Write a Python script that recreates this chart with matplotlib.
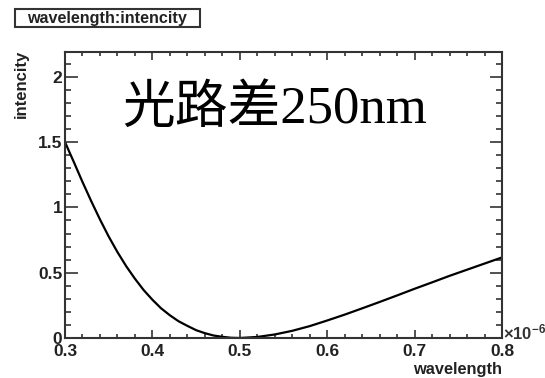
import matplotlib.pyplot as plt
from matplotlib.ticker import MultipleLocator
from matplotlib.patches import Rectangle

# wavelength in units of 1e-6 m, intensity
wavelength = [0.30, 0.31, 0.32, 0.33, 0.34, 0.35, 0.36, 0.37, 0.38, 0.39, 0.40,
              0.41, 0.42, 0.43, 0.44, 0.45, 0.46, 0.47, 0.48, 0.49, 0.50,
              0.52, 0.54, 0.56, 0.58, 0.60, 0.62, 0.64, 0.66, 0.68, 0.70,
              0.72, 0.74, 0.76, 0.78, 0.80]
intencity = [1.50, 1.349, 1.195, 1.048, 0.908, 0.777, 0.658, 0.550, 0.454, 0.367, 0.293,
             0.227, 0.174, 0.128, 0.093, 0.060, 0.037, 0.019, 0.009, 0.002, 0.0,
             0.008, 0.027, 0.055, 0.091, 0.134, 0.179, 0.227, 0.276, 0.326, 0.377,
             0.426, 0.476, 0.523, 0.570, 0.617]

x_ticks = [0.3, 0.4, 0.5, 0.6, 0.7, 0.8]
y_ticks = [0, 0.5, 1, 1.5, 2]
y_tick_labels = ["0", "0.5", "1", "1.5", "2"]

plt.rcParams['font.family'] = ['Liberation Sans', 'DejaVu Sans']
plt.rcParams['mathtext.default'] = 'regular'

fig = plt.figure(figsize=(5.45, 3.78), dpi=100)
ax = fig.add_axes([65 / 545, 1 - 338 / 378, (502 - 65) / 545, (338 - 52) / 378])

ax.plot(wavelength, intencity, color='black', lw=1.6)
ax.set_xlim(0.3, 0.8)
ax.set_ylim(0, 2.19)

ax.set_xticks(x_ticks)
ax.set_xticklabels([f"{v:.1f}" for v in x_ticks])
ax.set_yticks(y_ticks)
ax.set_yticklabels(y_tick_labels)
ax.xaxis.set_minor_locator(MultipleLocator(0.02))
ax.yaxis.set_minor_locator(MultipleLocator(0.1))

ax.tick_params(axis='both', which='both', direction='in', top=True, right=True,
               color='#333333', width=1.2)
ax.tick_params(axis='x', which='major', length=6, pad=4)
ax.tick_params(axis='x', which='minor', length=3)
ax.tick_params(axis='y', which='major', length=9, pad=2)
ax.tick_params(axis='y', which='minor', length=4.5)
for lab in ax.get_xticklabels() + ax.get_yticklabels():
    lab.set_fontweight('bold')
    lab.set_fontsize(12.5)
    lab.set_color('#222222')
for sp in ax.spines.values():
    sp.set_linewidth(1.5)
    sp.set_color('#333333')

fig.text(502 / 545, 1 - 377 / 378, "wavelength", ha='right', va='bottom',
         fontsize=11.8, fontweight='bold', color='#222222')
fig.text(21 / 545, 1 - 50 / 378, "intencity", ha='center', va='top', rotation=90,
         fontsize=12, fontweight='bold', color='#222222')
fig.text(503 / 545, 1 - 342 / 378, r"$\times10^{-6}$", ha='left', va='bottom',
         fontsize=12, fontweight='bold', color='#333333')

fig.patches.append(Rectangle((15 / 545, 1 - 27 / 378), 185 / 545, 18 / 378,
                             transform=fig.transFigure, fc='white', ec='#333333', lw=1.5))
fig.text(107 / 545, 1 - 18 / 378, "wavelength:intencity", ha='center', va='center',
         fontsize=11.6, fontweight='bold', color='#222222')

fig.text(122 / 545, 1 - 123 / 378, "光路差250nm", ha='left', va='baseline',
         fontsize=38, family=['Liberation Serif', 'Noto Sans CJK SC'], color='black')

fig.savefig("out.png", dpi=100)
